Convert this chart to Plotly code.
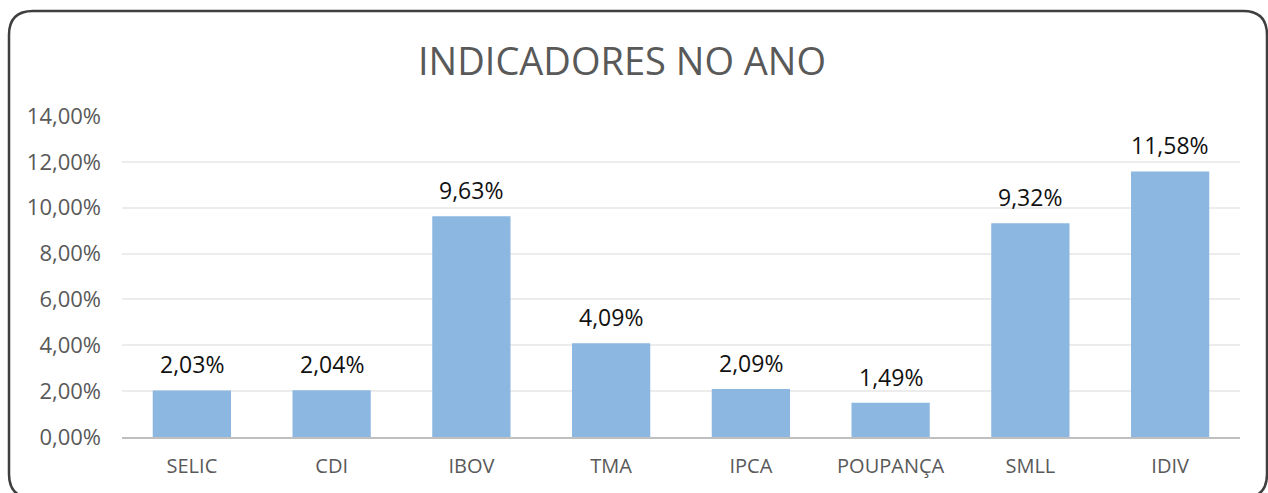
import plotly.graph_objects as go

categories = ["SELIC", "CDI", "IBOV", "TMA", "IPCA", "POUPANÇA", "SMLL", "IDIV"]
values_pct = [2.03, 2.04, 9.63, 4.09, 2.09, 1.49, 9.32, 11.58]
tick_vals_pct = [0, 2, 4, 6, 8, 10, 12, 14]

W, H = 1268, 493
L, R, T, B = 122, 28, 116, 56
pw, ph = W - L - R, H - T - B

values = [v / 100 for v in values_pct]
tick_vals = [v / 100 for v in tick_vals_pct]

fig = go.Figure(go.Bar(
    x=categories, y=values,
    marker=dict(color="#8BB7E1", line=dict(width=0)),
    width=0.56,
    hoverinfo="skip",
))

for c, v in zip(categories, values_pct):
    fig.add_annotation(x=c, y=v / 100, xref="x", yref="y",
                       text=f"{v:.2f}%".replace(".", ","),
                       showarrow=False, yanchor="bottom", yshift=8,
                       font=dict(family="Open Sans", size=23, color="#111111"))

def px(x):
    return (x - L) / pw
def py(y):
    return (H - B - y) / ph

x0, x1, y0, y1, r = 9, 1267, 11, 498, 24
path = (f"M {px(x0+r)},{py(y0)} L {px(x1-r)},{py(y0)} "
        f"Q {px(x1)},{py(y0)} {px(x1)},{py(y0+r)} "
        f"L {px(x1)},{py(y1-r)} Q {px(x1)},{py(y1)} {px(x1-r)},{py(y1)} "
        f"L {px(x0+r)},{py(y1)} Q {px(x0)},{py(y1)} {px(x0)},{py(y1-r)} "
        f"L {px(x0)},{py(y0+r)} Q {px(x0)},{py(y0)} {px(x0+r)},{py(y0)} Z")
fig.add_shape(type="path", path=path, xref="paper", yref="paper",
              line=dict(color="#3F3F3F", width=2.5), layer="above")

fig.update_layout(
    width=W, height=H,
    margin=dict(l=L, r=R, t=T, b=B),
    paper_bgcolor="white", plot_bgcolor="white",
    separators=",.",
    showlegend=False,
    title=dict(text="INDICADORES NO ANO", x=622 / W, xref="container", xanchor="center",
               y=1 - 62 / H, yanchor="middle",
               font=dict(family="Open Sans", size=38, color="#595959")),
    bargap=0.44,
    xaxis=dict(showgrid=False, showline=True, linecolor="#BFBFBF", linewidth=2,
               ticks="", tickfont=dict(family="Open Sans", size=20, color="#595959"),
               ticklabelstandoff=10, fixedrange=True),
    yaxis=dict(range=[0, 0.14], tickvals=tick_vals, tickformat=".2%",
               showgrid=True, gridcolor="#ECECEC", gridwidth=1.5,
               zeroline=False, showline=False, ticks="",
               tickfont=dict(family="Open Sans", size=22, color="#595959"),
               ticklabelstandoff=20, fixedrange=True),
)

fig.write_html("out.html", post_script="document.body.style.margin='0px';",
               config={"displayModeBar": False})
